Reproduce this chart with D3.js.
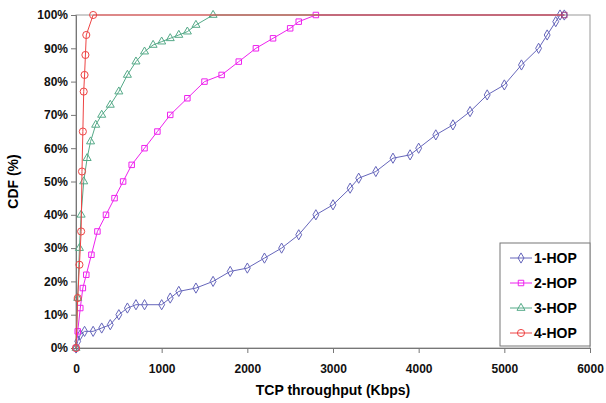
<!DOCTYPE html>
<html><head><meta charset="utf-8">
<script src="https://cdn.jsdelivr.net/npm/d3@7"></script>
<style>body{margin:0;background:#fff}text{font-family:"Liberation Sans",Arial,sans-serif;font-weight:bold}</style>
</head><body><svg width="606" height="403"></svg>
<script>
const hop1 = [[0,0],[20,2],[50,4],[100,5],[200,5],[300,6],[400,7],[500,10],[600,12],[700,13],[800,13],[1000,13],[1100,15],[1200,17],[1400,18],[1600,20],[1800,23],[2000,24],[2200,27],[2400,30],[2600,34],[2800,40],[3000,43],[3200,48],[3300,51],[3500,53],[3700,57],[3900,58],[4000,60],[4200,64],[4400,67],[4600,71],[4800,76],[5000,79],[5200,85],[5400,90],[5500,94],[5600,98],[5650,100],[5700,100]];
const hop2 = [[0,0],[20,5],[50,12],[80,18],[120,22],[180,28],[250,35],[350,40],[450,45],[550,50],[650,55],[800,60],[950,65],[1100,70],[1300,75],[1500,80],[1700,82],[1900,86],[2100,90],[2300,93],[2500,96],[2600,98],[2800,100]];
const hop3 = [[0,0],[20,15],[40,30],[60,40],[90,50],[130,57],[170,62],[230,67],[300,70],[400,73],[500,77],[600,82],[700,86],[800,89],[900,91],[1000,92],[1100,93],[1200,94],[1300,95],[1400,97],[1600,100]];
const hop4 = [[0,0],[20,15],[40,25],[60,35],[70,53],[80,65],[90,77],[100,82],[110,88],[120,94],[200,100]];
const xTicks = [0,1000,2000,3000,4000,5000,6000];
const yTicks = [0,10,20,30,40,50,60,70,80,90,100];
const series = [
  {name:"1-HOP", data:hop1, color:"#6666bb", sym:d3.symbolDiamond, size:30},
  {name:"2-HOP", data:hop2, color:"#ee22ee", sym:d3.symbolSquare, size:30},
  {name:"3-HOP", data:hop3, color:"#55aa88", sym:d3.symbolTriangle, size:28},
  {name:"4-HOP", data:hop4, color:"#ee4444", sym:d3.symbolCircle, size:40}
];
const svg = d3.select("svg");
const m = {l:76, r:16, t:15, b:55};
const W = 606 - m.l - m.r, H = 403 - m.t - m.b;
const x = d3.scaleLinear().domain([0,6000]).range([0,W]);
const y = d3.scaleLinear().domain([0,100]).range([H,0]);
const g = svg.append("g").attr("transform",`translate(${m.l},${m.t})`);
g.append("rect").attr("width",W).attr("height",H).attr("fill","none").attr("stroke","#999");
const xa = g.append("g").attr("transform",`translate(0,${H})`).call(d3.axisBottom(x).tickValues(xTicks).tickSize(5).tickFormat(d3.format("d")));
const ya = g.append("g").call(d3.axisLeft(y).tickValues(yTicks).tickSize(5).tickFormat(d=>d+"%"));
[xa,ya].forEach(a=>{a.selectAll("path,line").attr("stroke","#777");a.selectAll("text").attr("font-size",12).attr("fill","#111");});
xa.selectAll("text").attr("dy","1.4em");
// extend top lines
const ext = s => s.data.concat([[5700,100]]);
series.forEach(s=>{
  g.append("path").datum(ext(s)).attr("fill","none").attr("stroke",s.color).attr("stroke-width",1)
    .attr("d",d3.line().x(d=>x(d[0])).y(d=>y(d[1])));
  g.selectAll(null).data(s.data).enter().append("path")
    .attr("d",d3.symbol().type(s.sym).size(s.size))
    .attr("transform",d=>`translate(${x(d[0])},${y(d[1])})`)
    .attr("fill","none").attr("stroke",s.color);
});
g.append("path").attr("d",d3.symbol().type(d3.symbolSquare).size(30)).attr("transform",`translate(${x(5700)},${y(100)})`).attr("fill","none").attr("stroke","#a04080");
svg.append("text").attr("x",m.l+W/2).attr("y",395).attr("text-anchor","middle").attr("font-size",14).text("TCP throughput (Kbps)");
svg.append("text").attr("transform",`translate(18,${m.t+H/2}) rotate(-90)`).attr("text-anchor","middle").attr("font-size",14).text("CDF (%)");
const lg = svg.append("g").attr("transform","translate(500,243)");
lg.append("rect").attr("width",90).attr("height",103).attr("fill","#fff").attr("stroke","#777");
series.forEach((s,i)=>{
  const yy = 15+i*25;
  lg.append("line").attr("x1",10).attr("x2",32).attr("y1",yy).attr("y2",yy).attr("stroke",s.color);
  lg.append("path").attr("d",d3.symbol().type(s.sym).size(s.size)).attr("transform",`translate(21,${yy})`).attr("fill","none").attr("stroke",s.color);
  lg.append("text").attr("x",34).attr("y",yy+5).attr("font-size",14).text(s.name);
});
</script></body></html>
